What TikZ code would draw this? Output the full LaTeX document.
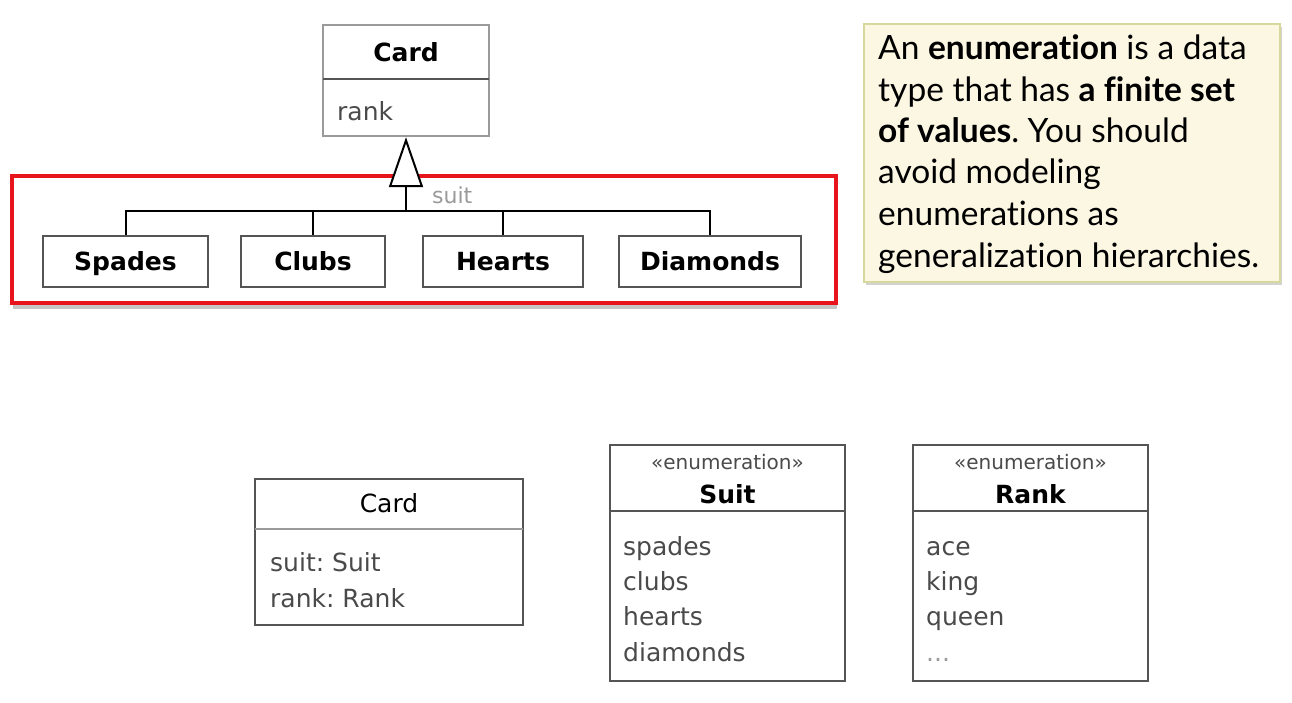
\documentclass[tikz,border=0pt]{standalone}
\usepackage{fontspec}
\setmainfont{DejaVu Sans}
\newfontfamily\notefont[Ligatures=NoCommon]{Lato}
\usetikzlibrary{arrows.meta,shadows}
\definecolor{boxgray}{HTML}{555555}
\definecolor{lightgray}{HTML}{9A9A9A}
\definecolor{txtgray}{HTML}{4A4A4A}
\definecolor{hlred}{HTML}{E8141B}
\definecolor{notefill}{HTML}{FCF7E3}
\definecolor{noteline}{HTML}{D6D99C}
\frenchspacing
\begin{document}
\begin{tikzpicture}[x=1pt,y=-1pt,
  umlbox/.style={draw=boxgray,line width=2.4pt,fill=white,inner sep=0pt},
  leafbox/.style={umlbox,minimum height=51pt,text height=18pt,text depth=0pt,
    font=\fontsize{25}{30}\selectfont\bfseries},
  divider/.style={draw=boxgray,line width=2.4pt},
  title/.style={inner sep=0pt,anchor=base},
  attr/.style={inner sep=0pt,anchor=base west,text=txtgray,font=\fontsize{25}{30}\selectfont},
  stereo/.style={inner sep=0pt,anchor=base,text=txtgray,font=\fontsize{20}{24}\selectfont},
  link/.style={draw=black,line width=2pt},
  notetext/.style={inner sep=0pt,anchor=base west,font=\notefont\fontsize{33.5}{41}\selectfont},
]
\useasboundingbox (0,0) rectangle (1292,702);

% ---------- generalization hierarchy ----------
\draw[draw=hlred,fill=white,line width=3.5pt,drop shadow={shadow xshift=1pt,shadow yshift=-6pt,opacity=.45}]
  (12,176) rectangle (836,303);

\node[umlbox,draw=lightgray,minimum width=166pt,minimum height=111pt] (card1) at (406,80.5) {};
\draw[divider] (323,79) -- (489,79);
\node[title,font=\fontsize{25}{30}\selectfont\bfseries] (card1t) at (406,61) {Card};
\node[attr] (card1a) at (337,120) {rank};

\node[leafbox,minimum width=165pt] (spades) at (125.5,261.5) {Spades};
\node[leafbox,minimum width=144pt] (clubs) at (313,261.5) {Clubs};
\node[leafbox,minimum width=160pt] (hearts) at (503,261.5) {Hearts};
\node[leafbox,minimum width=182pt] (diamonds) at (710,261.5) {Diamonds};

\coordinate (join) at (406,211);
\draw[link] (spades.north) |- (join);
\draw[link] (clubs.north) |- (join);
\draw[link] (hearts.north) |- (join);
\draw[link] (diamonds.north) |- (join);
\draw[link,-{Triangle[open,length=50pt,width=34pt,fill=white,line width=2pt]}] (join) -- (card1.south);
\node[inner sep=0pt,anchor=base west,text=lightgray,font=\fontsize{22}{26}\selectfont] (suitlbl) at (432,203) {suit};

% ---------- note ----------
\draw[draw=noteline,line width=1.5pt,fill=notefill,drop shadow={shadow xshift=2pt,shadow yshift=-3pt,opacity=.35}]
  (864,24) rectangle (1280,282);
\node[notetext] (n1) at (878,59) {An \textbf{enumeration} is a data};
\node[notetext] (n2) at (878,101) {type that has \textbf{a finite set}};
\node[notetext] (n3) at (878,142) {\textbf{of values}. You should};
\node[notetext] (n4) at (878,183) {avoid modeling};
\node[notetext] (n5) at (878,225) {enumerations as};
\node[notetext] (n6) at (878,267) {generalization hierarchies.};

% ---------- enumeration-based model ----------
\node[umlbox,minimum width=268pt,minimum height=146pt] (card2) at (389,552) {};
\draw[divider,draw=lightgray] (255,529) -- (523,529);
\node[title,font=\fontsize{25}{30}\selectfont] (card2t) at (389,512) {Card};
\node[attr] (card2a) at (270,571) {suit: Suit};
\node[attr] (card2b) at (270,607) {rank: Rank};

\node[umlbox,minimum width=235pt,minimum height=236pt] (suit) at (727.5,563) {};
\draw[divider] (610,511) -- (845,511);
\node[stereo] (suits) at (727.5,469) {«enumeration»};
\node[title,font=\fontsize{25}{30}\selectfont\bfseries] (suitt) at (727.5,503) {Suit};
\node[attr] (s1) at (623,555) {spades};
\node[attr] (s2) at (623,590) {clubs};
\node[attr] (s3) at (623,625) {hearts};
\node[attr] (s4) at (623,661) {diamonds};

\node[umlbox,minimum width=235pt,minimum height=236pt] (rank) at (1030.5,563) {};
\draw[divider] (913,511) -- (1148,511);
\node[stereo] (ranks) at (1030.5,469) {«enumeration»};
\node[title,font=\fontsize{25}{30}\selectfont\bfseries] (rankt) at (1030.5,503) {Rank};
\node[attr] (r1) at (926,555) {ace};
\node[attr] (r2) at (926,590) {king};
\node[attr] (r3) at (926,625) {queen};
\node[attr,text=lightgray] (r4) at (926,661) {...};
\end{tikzpicture}
\end{document}
